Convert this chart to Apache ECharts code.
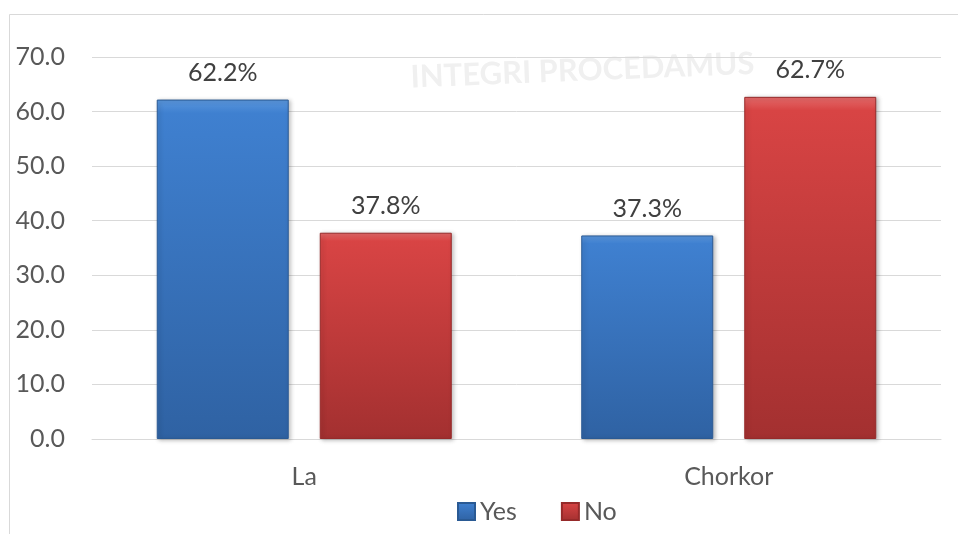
<!DOCTYPE html>
<html>
<head>
<meta charset="utf-8">
<title>La vs Chorkor</title>
<script src="https://cdn.jsdelivr.net/npm/echarts@6/dist/echarts.min.js"></script>
<style>
  html, body { margin: 0; padding: 0; background: #ffffff; }
  #chart { width: 958px; height: 534px; }
</style>
</head>
<body>
<div id="chart"></div>
<script>
// Survey responses by community (percent)
const categories = ['La', 'Chorkor'];
const yesValues = [62.2, 37.3];
const noValues = [37.8, 62.7];
const seriesNames = ['Yes', 'No'];
const yTicks = { min: 0, max: 70, step: 10 };

const FONT = 'Lato, "Open Sans", sans-serif';
const TEXT = '#595959';
const SIZE = 25;

function barFill(top, mid, bottom) {
  return new echarts.graphic.LinearGradient(0, 0, 0, 1, [
    { offset: 0, color: top },
    { offset: 0.04, color: mid },
    { offset: 1, color: bottom }
  ]);
}

function barSeries(name, values, fill, edge) {
  return {
    name: name,
    type: 'bar',
    data: values,
    barWidth: 132,
    barGap: '23.5%',
    itemStyle: {
      color: fill,
      borderColor: edge,
      borderWidth: 1,
      shadowColor: 'rgba(0,0,0,0.25)',
      shadowBlur: 4,
      shadowOffsetX: 2,
      shadowOffsetY: 1
    },
    label: {
      show: true,
      position: 'top',
      distance: 14,
      color: '#404040',
      fontFamily: FONT,
      fontSize: SIZE,
      formatter: p => p.value.toFixed(1) + '%'
    }
  };
}

const chart = echarts.init(document.getElementById('chart'), null, { renderer: 'canvas' });

chart.setOption({
  backgroundColor: '#ffffff',
  animation: false,
  graphic: [
    {
      type: 'polyline',
      silent: true,
      z: -10,
      shape: { points: [[9.5, 534], [9.5, 14.5], [958, 14.5]] },
      style: { stroke: '#d9d9d9', lineWidth: 1, fill: null }
    },
    {
      type: 'text',
      silent: true,
      z: -10,
      x: 410,
      y: 62,
      rotation: 0.04,
      style: {
        text: 'INTEGRI PROCEDAMUS',
        fill: '#f0f0f0',
        fontFamily: FONT,
        fontSize: 31,
        fontWeight: 'bold'
      }
    }
  ],
  grid: { left: 92, right: 17, top: 57, bottom: 95, containLabel: false },
  legend: {
    data: seriesNames,
    left: 457,
    top: 499,
    padding: 0,
    itemWidth: 17,
    itemHeight: 17,
    itemGap: 44,
    icon: 'rect',
    textStyle: { color: TEXT, fontFamily: FONT, fontSize: SIZE }
  },
  xAxis: {
    type: 'category',
    data: categories,
    axisLine: { show: true, lineStyle: { color: '#d9d9d9', width: 1 } },
    axisTick: { show: false },
    axisLabel: { color: TEXT, fontFamily: FONT, fontSize: SIZE, margin: 25 }
  },
  yAxis: {
    type: 'value',
    min: yTicks.min,
    max: yTicks.max,
    interval: yTicks.step,
    axisLine: { show: false },
    axisTick: { show: false },
    splitLine: { lineStyle: { color: '#d9d9d9', width: 1 } },
    axisLabel: {
      color: TEXT,
      fontFamily: FONT,
      fontSize: SIZE,
      margin: 27,
      formatter: v => v.toFixed(1)
    }
  },
  series: [
    barSeries(seriesNames[0], yesValues, barFill('#5a97dd', '#3f80d0', '#2f62a3'), '#2a5a94'),
    barSeries(seriesNames[1], noValues, barFill('#e46a6a', '#d84444', '#a33030'), '#962a2a')
  ]
});
</script>
</body>
</html>
